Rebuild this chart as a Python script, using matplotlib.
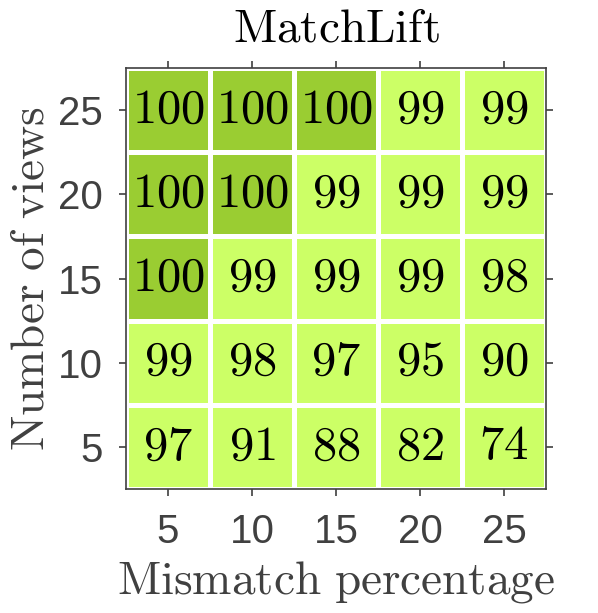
import numpy as np
import matplotlib
matplotlib.use('Agg')
import matplotlib.pyplot as plt
from matplotlib.colors import ListedColormap

# dados
mismatch = [5, 10, 15, 20, 25]
views = [5, 10, 15, 20, 25]
# linhas = número de vistas (5 -> 25), colunas = percentual (5 -> 25)
taxa = np.array([
    [97, 91, 88, 82, 74],
    [99, 98, 97, 95, 90],
    [100, 99, 99, 99, 98],
    [100, 100, 99, 99, 99],
    [100, 100, 100, 99, 99],
])

plt.rcParams['mathtext.fontset'] = 'cm'
plt.rcParams['font.family'] = 'Liberation Sans'

fig = plt.figure(figsize=(5.98, 6.13), dpi=100)
ax = fig.add_axes([126 / 598, 1 - 489 / 613, 420 / 598, 421 / 613])

cores = ListedColormap(['#ccff66', '#9acd32'])
nivel = (taxa >= 100).astype(int)
x = np.arange(len(mismatch) + 1) + 0.5
y = np.arange(len(views) + 1) + 0.5
ax.set_axisbelow(True)
ax.grid(True, color='#e3e3e3', linewidth=1.2)
ax.pcolormesh(x, y, nivel, cmap=cores, vmin=0, vmax=1,
              edgecolor='white', linewidth=3.6, zorder=2)

for i in range(len(views)):
    for j in range(len(mismatch)):
        ax.text(j + 1, i + 1, r'$%d$' % taxa[i, j], ha='center', va='center',
                fontsize=35, color='black', zorder=3)

ax.set_xlim(0.5, 5.5)
ax.set_ylim(0.5, 5.5)
ax.set_xticks(range(1, 6))
ax.set_xticklabels([str(v) for v in mismatch])
ax.set_yticks(range(1, 6))
ax.set_yticklabels([str(v) for v in views])
ax.tick_params(direction='out', length=5, width=1.2, colors='#404040',
               labelsize=29, top=True, right=True, pad=12)
for s in ax.spines.values():
    s.set_color('#404040')
    s.set_linewidth(1.2)

ax.set_xlabel(r'$\mathrm{Mismatch\ percentage}$', fontsize=34, color='#404040', labelpad=6)
ax.set_ylabel(r'$\mathrm{Number\ of\ views}$', fontsize=34, color='#404040', labelpad=3)
ax.set_title(r'$\mathrm{MatchLift}$', fontsize=34, color='black', pad=19)

fig.savefig('out.png', dpi=100, facecolor='white')
